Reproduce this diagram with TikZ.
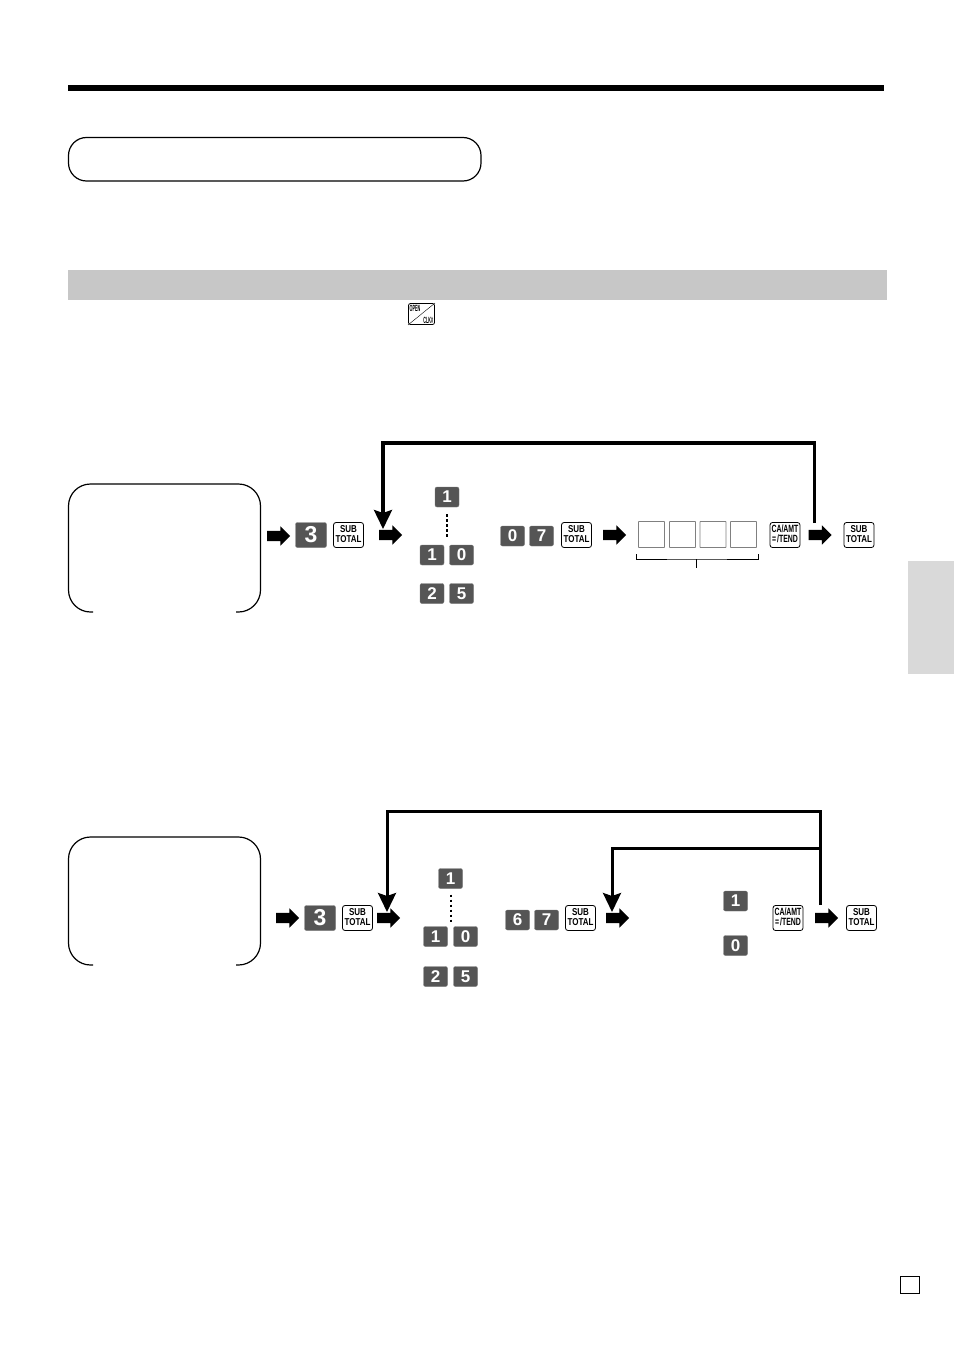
\documentclass[tikz,border=0pt]{standalone}
\usepackage{fontspec}
\setsansfont{Liberation Sans}
\usetikzlibrary{arrows.meta,shapes.arrows}
\definecolor{keygray}{HTML}{555555}
\tikzset{
	numkey/.style={fill=keygray, draw=keygray!80, rounded corners=2pt, minimum width=24pt, minimum height=20pt, inner sep=0pt, text=white, font=\sffamily\bfseries\fontsize{17}{17}\selectfont},
	bigkey/.style={numkey, minimum width=31pt, minimum height=25pt, font=\sffamily\bfseries\fontsize{23}{23}\selectfont},
	subkey/.style={draw, thick, fill=white, rounded corners=2.5pt, minimum width=30pt, minimum height=25pt, inner sep=0pt, align=center, font=\sffamily\bfseries},
	blockarrow/.style={single arrow, fill=black, minimum height=23pt, minimum width=19pt, single arrow head extend=4.5pt, inner sep=5pt, xshift=-2.5pt},
	emptybox/.style={draw=gray, thick, rounded corners=0.5pt, minimum width=26pt, minimum height=26pt, inner sep=0pt},
	backline/.style={line width=3.4pt, -{Stealth[length=19pt, width=18pt, inset=3pt]}},
	frontbox/.style={line width=1.2pt, rounded corners=22pt}
}
\newcommand{\subtext}{\scalebox{0.8}[1]{\fontsize{10}{10}\selectfont\begin{tabular}{@{}c@{}}SUB\\TOTAL\end{tabular}}}
\newcommand{\catendtext}{\scalebox{0.66}[1]{\fontsize{10.5}{10}\selectfont\begin{tabular}{@{}c@{}}CA/AMT\\=\,/TEND\end{tabular}}}
\begin{document}
\begin{tikzpicture}[x=1pt, y=-1pt]
	\useasboundingbox (0,0) rectangle (954,1351);
	% page furniture
	\fill[black] (68,85) rectangle (884,91);
	\draw[line width=1.2pt, rounded corners=18pt] (68.5,137.5) rectangle (481,181);
	\fill[black!22] (68,270) rectangle (887,300);
	\fill[black!15] (908,561) rectangle (954,674);
	\draw[thick] (900,1276) rectangle (919,1293);
	\node[draw, thick, rounded corners=2pt, minimum width=26pt, minimum height=21pt, inner sep=0pt] (openkey) at (421.5,314) {};
	\draw (openkey.south west) -- (openkey.north east);
	\node[font=\sffamily\bfseries, anchor=north west, inner sep=0pt] (opentext) at (409.5,305) {\scalebox{0.42}[1]{\fontsize{9}{9}\selectfont OPEN}};
	\node[font=\sffamily\bfseries, anchor=south east, inner sep=0pt] (clktext) at (433.5,323.5) {\scalebox{0.42}[1]{\fontsize{9}{9}\selectfont CLK\#}};
	% upper operation
	\draw[frontbox] (93,612) -| (68.5,484) -| (260.5,612) -- (236,612);
	\node[blockarrow] (arrowa) at (278.5,536) {};
	\node[bigkey] (three) at (311,535) {3};
	\node[subkey] (suba) at (348.5,535) {\subtext};
	\node[blockarrow] (arrowb) at (390.5,535) {};
	\node[numkey] (one) at (447,497) {1};
	\draw[line width=2pt, dash pattern=on 2.5pt off 2.5pt] (one.south)+(0,7) -- +(0,30);
	\node[numkey] (onea) at (432,555) {1};
	\node[numkey] (zeroa) at (461.5,555) {0};
	\node[numkey] (two) at (432,593.5) {2};
	\node[numkey] (five) at (461.5,593.5) {5};
	\node[numkey] (zerob) at (512.5,536) {0};
	\node[numkey] (seven) at (541.5,536) {7};
	\node[subkey] (subb) at (576.5,535) {\subtext};
	\node[blockarrow] (arrowc) at (614.5,535) {};
	\node[emptybox] (boxa) at (651.5,534.5) {};
	\node[emptybox] (boxb) at (682.5,534.5) {};
	\node[emptybox] (boxc) at (713,534.5) {};
	\node[emptybox] (boxd) at (743.5,534.5) {};
	\coordinate (bracket) at (696.5,559);
	\draw (636,554) |- (bracket) -| (758,554);
	\draw (bracket) -- +(0,9);
	\node[subkey] (cakey) at (785,535) {\catendtext};
	\node[blockarrow] (arrowd) at (820,535) {};
	\node[subkey] (subc) at (859,535) {\subtext};
	\coordinate (starta) at (814.5,523);
	\coordinate (enda) at (383,529);
	\draw[backline] (starta) |- (600,443) -| (enda);
	% lower operation
	\draw[frontbox] (93,965) -| (68.5,837) -| (260.5,965) -- (236,965);
	\node[blockarrow] (arrowe) at (287.5,918) {};
	\node[bigkey] (threeb) at (320,918) {3};
	\node[subkey] (subd) at (357.5,918) {\subtext};
	\node[blockarrow] (arrowf) at (388.5,918) {};
	\node[numkey] (oneb) at (450.5,878.5) {1};
	\draw[line width=2pt, dash pattern=on 2.5pt off 2.5pt] (oneb.south)+(0,6) -- +(0,33);
	\node[numkey] (onec) at (435.5,936.5) {1};
	\node[numkey] (zeroc) at (465.5,936.5) {0};
	\node[numkey] (twob) at (435.5,976.5) {2};
	\node[numkey] (fiveb) at (465.5,976.5) {5};
	\node[numkey] (six) at (517.5,920) {6};
	\node[numkey] (sevenb) at (546.5,920) {7};
	\node[subkey] (sube) at (580.5,918) {\subtext};
	\node[blockarrow] (arrowg) at (617.5,918) {};
	\node[numkey] (oned) at (735.5,901) {1};
	\node[numkey] (zerod) at (735.5,945.5) {0};
	\node[subkey] (cakeyb) at (788,918) {\catendtext};
	\node[blockarrow] (arrowh) at (826.5,918) {};
	\node[subkey] (subf) at (861.5,918) {\subtext};
	\coordinate (startb) at (820.5,905);
	\coordinate (endb) at (387,912);
	\coordinate (endc) at (612,912);
	\draw[backline, line width=3pt] (startb) |- (600,811.5) -| (endb);
	\draw[backline, line width=3pt] (820.5,848.5) -| (endc);
\end{tikzpicture}
\end{document}
